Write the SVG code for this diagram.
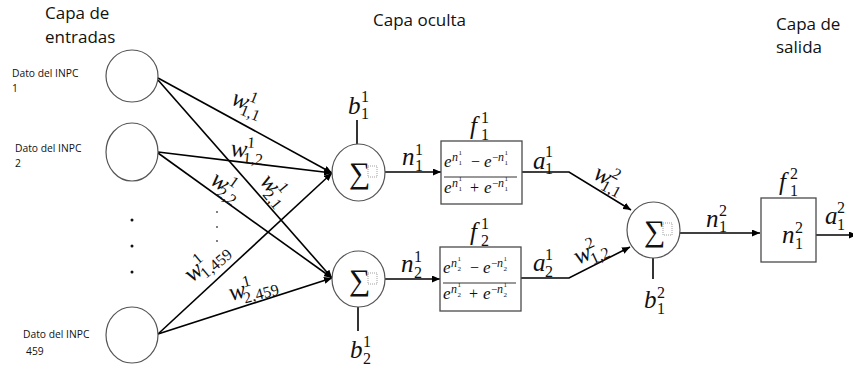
<svg xmlns="http://www.w3.org/2000/svg" width="853" height="370" viewBox="0 0 853 370">
  <defs>
    <marker id="arrow" markerUnits="userSpaceOnUse" markerWidth="9" markerHeight="7" refX="8" refY="3.5" orient="auto">
      <path d="M0,0 L8,3.5 L0,7 z" fill="#000"/>
    </marker>
    <style>
      .node { fill: #fff; stroke: #555; stroke-width: 1.2; }
      .box { fill: #fff; stroke: #4a4a4a; stroke-width: 1.3; }
      .wire { fill: none; stroke: #000; stroke-width: 1.6; }
      .tip { marker-end: url(#arrow); }
      .hdr { font-family: "Open Sans", "Liberation Sans", sans-serif; font-size: 17px; fill: #111; }
      .inp { font-family: "Open Sans", "Liberation Sans", sans-serif; font-size: 10.3px; fill: #111; }
      .mi { font-family: "Liberation Serif", "DejaVu Serif", serif; font-style: italic; font-size: 25px; fill: #111; }
      .mn { font-family: "Liberation Serif", "DejaVu Serif", serif; font-size: 16px; fill: #111; }
      .sig { font-family: "Liberation Serif", "DejaVu Serif", serif; font-size: 30px; fill: #111; }
      .ph { fill: none; stroke: #888; stroke-width: 0.8; stroke-dasharray: 1 1; }
      .fe { font-family: "Liberation Serif", "DejaVu Serif", serif; font-style: italic; font-size: 17px; fill: #111; }
      .fo { font-family: "Liberation Serif", "DejaVu Serif", serif; font-size: 16px; fill: #111; }
      .fx { font-family: "Liberation Serif", "DejaVu Serif", serif; font-style: italic; font-size: 12px; fill: #111; }
      .fm { font-family: "Liberation Serif", "DejaVu Serif", serif; font-size: 11px; fill: #111; }
      .fd { font-family: "Liberation Serif", "DejaVu Serif", serif; font-size: 7px; fill: #111; }
      .frac { stroke: #333; stroke-width: 1; }
    </style>
  </defs>

  <!-- layer headings -->
  <g id="headings">
    <text class="hdr" x="45" y="19">Capa de</text>
    <text class="hdr" x="45" y="43">entradas</text>
    <text class="hdr" x="373" y="26">Capa oculta</text>
    <text class="hdr" x="776" y="30">Capa de</text>
    <text class="hdr" x="776" y="53">salida</text>
  </g>

  <!-- connectors -->
  <g id="connectors">
    <line class="wire tip" x1="158" y1="78" x2="332" y2="173"/>
    <line class="wire tip" x1="158" y1="80" x2="332" y2="278"/>
    <line class="wire tip" x1="158" y1="152" x2="332" y2="173"/>
    <line class="wire tip" x1="158" y1="153" x2="332" y2="278"/>
    <line class="wire tip" x1="158" y1="334" x2="332" y2="173"/>
    <line class="wire tip" x1="158" y1="334" x2="332" y2="278"/>
    <line class="wire tip" x1="385" y1="172" x2="441" y2="172"/>
    <line class="wire tip" x1="385" y1="279" x2="440" y2="279"/>
    <polyline class="wire tip" points="522,172 569,172 631,210"/>
    <polyline class="wire tip" points="521,278 569,278 630,247"/>
    <line class="wire tip" x1="680" y1="233" x2="760" y2="233"/>
    <line class="wire tip" x1="816" y1="235" x2="857" y2="235"/>
    <line class="wire" x1="357" y1="120" x2="357" y2="144"/>
    <line class="wire" x1="358" y1="307" x2="358" y2="331"/>
    <line class="wire" x1="653" y1="258" x2="653" y2="279"/>
  </g>

  <!-- input layer -->
  <g id="in1">
    <ellipse class="node" cx="132" cy="76" rx="26" ry="26"/>
    <text class="inp" x="12" y="77">Dato del INPC</text>
    <text class="inp" x="12" y="92">1</text>
  </g>
  <g id="in2">
    <ellipse class="node" cx="132" cy="152" rx="26" ry="29"/>
    <text class="inp" x="15" y="152">Dato del INPC</text>
    <text class="inp" x="15" y="167">2</text>
  </g>
  <g id="in459">
    <ellipse class="node" cx="132" cy="335" rx="26" ry="28"/>
    <text class="inp" x="23" y="338">Dato del INPC</text>
    <text class="inp" x="26" y="355">459</text>
  </g>
  <g id="ellipsis">
    <circle cx="132" cy="220" r="1.5" fill="#111"/>
    <circle cx="132" cy="246" r="1.5" fill="#111"/>
    <circle cx="132" cy="272" r="1.5" fill="#111"/>
    <circle cx="217" cy="212" r="0.9" fill="#444"/>
    <circle cx="217" cy="227" r="0.9" fill="#444"/>
    <circle cx="217" cy="241" r="0.9" fill="#444"/>
  </g>

  <!-- weight labels -->
  <g id="weights">
    <g transform="translate(230,104) rotate(22)">
      <text class="mi" x="0" y="0">w</text><text class="mn" x="16" y="-10">1</text><text class="mn" x="12" y="6">1,1</text>
    </g>
    <g transform="translate(230,156) rotate(5)">
      <text class="mi" x="0" y="0">w</text><text class="mn" x="16" y="-10">1</text><text class="mn" x="13" y="6">1,2</text>
    </g>
    <g transform="translate(209,183) rotate(35)">
      <text class="mi" x="0" y="0">w</text><text class="mn" x="16" y="-10">1</text><text class="mn" x="12" y="6">2,2</text>
    </g>
    <g transform="translate(259,182) rotate(50)">
      <text class="mi" x="0" y="0">w</text><text class="mn" x="16" y="-10">1</text><text class="mn" x="12" y="6">2,1</text>
    </g>
    <g transform="translate(192,283) rotate(-40)">
      <text class="mi" x="0" y="0">w</text><text class="mn" x="16" y="-10">1</text><text class="mn" x="13" y="6">1,459</text>
    </g>
    <g transform="translate(231,301) rotate(-15)">
      <text class="mi" x="0" y="0">w</text><text class="mn" x="16" y="-10">1</text><text class="mn" x="13" y="6">2,459</text>
    </g>
    <g transform="translate(592,178) rotate(28)">
      <text class="mi" x="0" y="0">w</text><text class="mn" x="16" y="-10">2</text><text class="mn" x="12" y="6">1,1</text>
    </g>
    <g transform="translate(578,265) rotate(-25)">
      <text class="mi" x="0" y="0">w</text><text class="mn" x="16" y="-10">2</text><text class="mn" x="14" y="6">1,2</text>
    </g>
  </g>

  <!-- hidden layer, neuron 1 -->
  <g id="sum1">
    <ellipse class="node" cx="358.5" cy="172.5" rx="26.5" ry="28.5"/>
    <text class="sig" x="349" y="183">∑</text>
    <rect class="ph" x="368" y="166" width="9" height="11"/>
    <text class="mi" x="348" y="114">b</text><text class="mn" x="361" y="102">1</text><text class="mn" x="361" y="119">1</text>
    <text class="mi" x="402" y="165">n</text><text class="mn" x="415" y="155">1</text><text class="mn" x="415" y="171">1</text>
  </g>
  <g id="act1">
    <rect class="box" x="441" y="141" width="81" height="63"/>
    <text class="mi" x="470" y="134">f</text><text class="mn" x="481" y="123">1</text><text class="mn" x="481" y="140">1</text>
    <text class="fe" x="444" y="167">e</text><text class="fx" x="452" y="161">n</text><text class="fd" x="458.5" y="155">1</text><text class="fd" x="458.5" y="165">1</text>
    <text class="fo" x="471" y="167">−</text>
    <text class="fe" x="484" y="167">e</text><text class="fm" x="492" y="161">−</text><text class="fx" x="498" y="161">n</text><text class="fd" x="504.5" y="155">1</text><text class="fd" x="504.5" y="165">1</text>
    <line class="frac" x1="444" y1="177" x2="517" y2="177"/>
    <text class="fe" x="444" y="193">e</text><text class="fx" x="452" y="187">n</text><text class="fd" x="458.5" y="181">1</text><text class="fd" x="458.5" y="191">1</text>
    <text class="fo" x="470" y="193">+</text>
    <text class="fe" x="484" y="193">e</text><text class="fm" x="492" y="187">−</text><text class="fx" x="498" y="187">n</text><text class="fd" x="504.5" y="181">1</text><text class="fd" x="504.5" y="191">1</text>
    <text class="mi" x="533" y="169">a</text><text class="mn" x="545" y="157">1</text><text class="mn" x="545" y="174">1</text>
  </g>

  <!-- hidden layer, neuron 2 -->
  <g id="sum2">
    <ellipse class="node" cx="358.5" cy="279" rx="26.5" ry="28"/>
    <text class="sig" x="349" y="290">∑</text>
    <rect class="ph" x="368" y="273" width="9" height="11"/>
    <text class="mi" x="350" y="358">b</text><text class="mn" x="363" y="347">1</text><text class="mn" x="363" y="364">2</text>
    <text class="mi" x="401" y="272">n</text><text class="mn" x="414" y="262">1</text><text class="mn" x="414" y="278">2</text>
  </g>
  <g id="act2">
    <rect class="box" x="440" y="247" width="81" height="64"/>
    <text class="mi" x="470" y="240">f</text><text class="mn" x="481" y="229">1</text><text class="mn" x="481" y="246">2</text>
    <text class="fe" x="443" y="273">e</text><text class="fx" x="451" y="267">n</text><text class="fd" x="457.5" y="261">1</text><text class="fd" x="457.5" y="271">2</text>
    <text class="fo" x="470" y="273">−</text>
    <text class="fe" x="483" y="273">e</text><text class="fm" x="491" y="267">−</text><text class="fx" x="497" y="267">n</text><text class="fd" x="503.5" y="261">1</text><text class="fd" x="503.5" y="271">2</text>
    <line class="frac" x1="443" y1="283" x2="516" y2="283"/>
    <text class="fe" x="443" y="299">e</text><text class="fx" x="451" y="293">n</text><text class="fd" x="457.5" y="287">1</text><text class="fd" x="457.5" y="297">2</text>
    <text class="fo" x="469" y="299">+</text>
    <text class="fe" x="483" y="299">e</text><text class="fm" x="491" y="293">−</text><text class="fx" x="497" y="293">n</text><text class="fd" x="503.5" y="287">1</text><text class="fd" x="503.5" y="297">2</text>
    <text class="mi" x="533" y="271">a</text><text class="mn" x="545" y="260">1</text><text class="mn" x="545" y="277">2</text>
  </g>

  <!-- output layer -->
  <g id="sum_out">
    <ellipse class="node" cx="653.5" cy="230" rx="26.5" ry="28"/>
    <text class="sig" x="644" y="241">∑</text>
    <rect class="ph" x="663" y="223" width="9" height="12"/>
    <text class="mi" x="644" y="308">b</text><text class="mn" x="657" y="298">2</text><text class="mn" x="657" y="314">1</text>
    <text class="mi" x="706" y="227">n</text><text class="mn" x="719" y="216">2</text><text class="mn" x="719" y="232">1</text>
  </g>
  <g id="act_out">
    <rect class="box" x="761" y="198" width="55" height="64"/>
    <text class="mi" x="779" y="190">f</text><text class="mn" x="790" y="179">2</text><text class="mn" x="790" y="196">1</text>
    <text class="mi" x="782" y="243">n</text><text class="mn" x="795" y="233">2</text><text class="mn" x="795" y="249">1</text>
    <text class="mi" x="825" y="224">a</text><text class="mn" x="837" y="213">2</text><text class="mn" x="837" y="230">1</text>
  </g>
</svg>
